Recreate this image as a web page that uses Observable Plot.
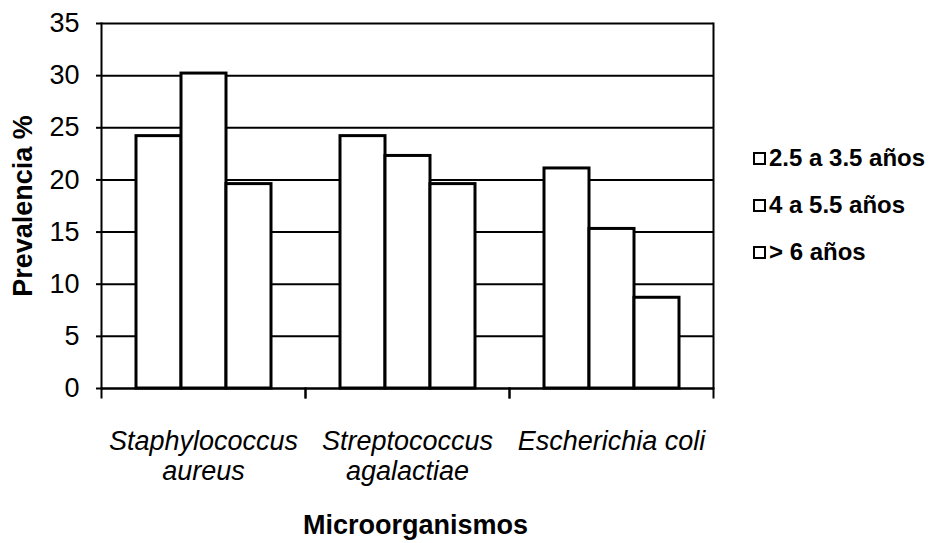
<!DOCTYPE html>
<html><head><meta charset="utf-8">
<script src="https://cdn.jsdelivr.net/npm/d3@7"></script>
<script src="https://cdn.jsdelivr.net/npm/@observablehq/plot@0.6"></script>
<style>
body{margin:0;background:#fff;font-family:"Liberation Sans",Arial,sans-serif;}
#wrap{position:relative;width:933px;height:543px;}
#legend{position:absolute;left:753px;top:0;}
.item{position:absolute;left:0;display:flex;align-items:center;white-space:nowrap;font-weight:bold;font-size:24px;line-height:28px;color:#000;}
.sw{width:9px;height:9px;border:2px solid #000;background:#fff;margin-right:3px;flex:none;}
</style></head><body><div id="wrap"><div id="legend"></div></div>
<script>
const categories = ["Staphylococcus aureus", "Streptococcus agalactiae", "Escherichia coli"];
const categoryLabels = ["Staphylococcus\naureus", "Streptococcus\nagalactiae", "Escherichia coli"];
const series = ["2.5 a 3.5 años", "4 a 5.5 años", "> 6 años"];
const valsA = [24.2, 24.2, 21.1];  // 2.5 a 3.5 años
const valsB = [30.2, 22.3, 15.3];  // 4 a 5.5 años
const valsC = [19.6, 19.6, 8.7];   // > 6 años
const yTicks = [0, 5, 10, 15, 20, 25, 30, 35];
const yTitle = "Prevalencia %";
const xTitle = "Microorganismos";

const seriesValues = [valsA, valsB, valsC];
const rows = categories.flatMap((c, i) => seriesValues.map((vals, j) => ({cat: c, group: series[j], value: vals[i]})));

const plot = Plot.plot({
  width: 933, height: 543,
  marginLeft: 100, marginRight: 220, marginTop: 23, marginBottom: 155,
  style: {fontFamily: "'Liberation Sans', Arial, sans-serif", color: "#000", background: "#fff", overflow: "visible"},
  fx: {domain: categories, padding: 0, label: null},
  x: {domain: series, paddingInner: 0, paddingOuter: 0.74, axis: null},
  y: {domain: [0, 35], label: null},
  marks: [
    Plot.gridY(yTicks, {stroke: "#000", strokeOpacity: 1, strokeWidth: 2}),
    Plot.frame({anchor: "left", facetAnchor: "left", strokeWidth: 2}),
    Plot.frame({anchor: "right", facetAnchor: "right", strokeWidth: 2}),
    Plot.frame({anchor: "left", insetTop: 365, insetBottom: -9, strokeWidth: 2}),
    Plot.frame({anchor: "right", insetTop: 365, insetBottom: -9, strokeWidth: 2}),
    Plot.barY(rows, {fx: "cat", x: "group", y: "value", fill: "#fff", stroke: "#000", strokeWidth: 3}),
    Plot.ruleY([0], {strokeWidth: 2}),
    Plot.axisY(yTicks, {tickSize: 5, tickPadding: 17, fontSize: 27, label: null, strokeWidth: 2}),
    Plot.axisFx({anchor: "bottom", tickSize: 0, tickPadding: 40, fontSize: 27, fontStyle: "italic", lineHeight: 1.11,
      tickFormat: c => categoryLabels[categories.indexOf(c)], label: null}),
    Plot.text([yTitle], {frameAnchor: "left", facetAnchor: "left", textAnchor: "middle", lineAnchor: "middle", rotate: -90, dx: -78, fontSize: 27, fontWeight: "bold"}),
    Plot.text([{cat: categories[1], t: xTitle}], {fx: "cat", text: "t", frameAnchor: "bottom", textAnchor: "middle", lineAnchor: "middle", dy: 137, dx: 8, fontSize: 27, fontWeight: "bold"})
  ]
});
document.getElementById("wrap").prepend(plot);

const legendCenters = [158, 205, 252];
const legend = document.getElementById("legend");
series.forEach((s, i) => {
  const d = document.createElement("div");
  d.className = "item";
  d.style.top = (legendCenters[i] - 14) + "px";
  d.innerHTML = '<span class="sw"></span>';
  d.appendChild(document.createTextNode(s));
  legend.appendChild(d);
});
</script></body></html>
